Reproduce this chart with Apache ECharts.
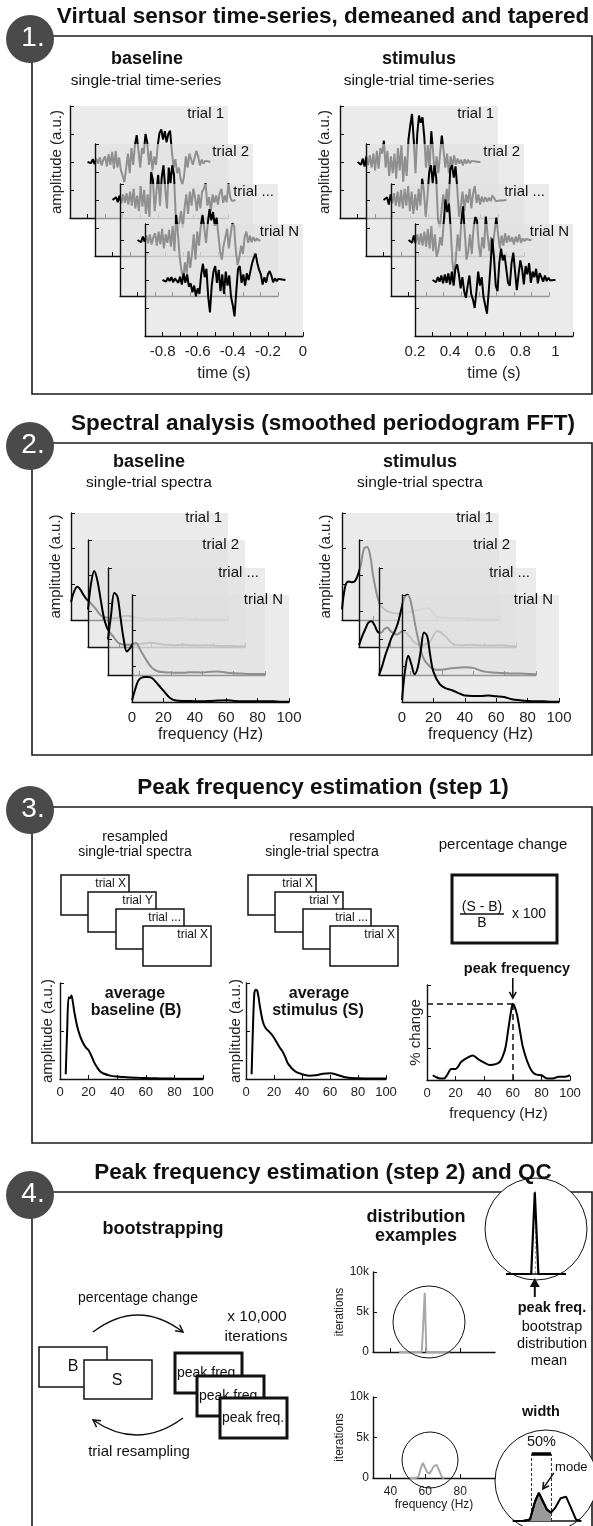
<!DOCTYPE html>
<html><head><meta charset="utf-8">
<script src="https://cdn.jsdelivr.net/npm/echarts@6/dist/echarts.min.js"></script>
<style>html,body{margin:0;padding:0;background:#fff}#c{width:593px;height:1526px}</style>
</head><body><div id="c"></div><script>
// ---------------- DATA ----------------
// Panel 1: single-trial virtual-sensor time-series (a.u., scaled to +-100), 10 ms samples
const baselineTimes = Array.from({length:71},(_,i)=>Math.round((-0.80+i*0.01)*100)/100);
const stimulusTimes = Array.from({length:71},(_,i)=>Math.round((0.30+i*0.01)*100)/100);
const baselineTrial1 = [0,3,-2,5,-4,6,-3,8,-6,4, 10,-8,14,-5,18,-12,20,-10,8,-15, -25,-36,-10,15,-20,25,-5,30,48,20, -10,25,15,50,35,-5,20,-15,10,-5, 30,52,58,40,55,35,50,56,20,-10, 5,-20,-10,-30,-40,-25,10,-10,15,5, -5,8,20,10,-6,4,-3,2,-1,1,0];
const baselineTrial2 = [0,-3,5,-4,8,-6,10,-5,12,-8, 15,-10,20,-15,8,-20,25,-12,18,-25, 10,-30,50,35,-20,15,45,-10,40,62, 20,-15,58,30,62,45,-30,-55,-40,-20, -50,-15,10,-25,15,-10,20,5,-20,10, -15,15,20,30,-10,5,-20,10,-5,8, -8,12,20,-5,8,-4,30,5,-2,1,0];
const baselineTrialDots = [0,3,-4,6,-3,8,-6,10,-8,5, 12,-10,15,-8,20,-15,10,-5,18,-12, 25,-20,45,10,-30,-55,-67,-40,-60,-20, -50,-25,10,-35,15,-10,25,45,20,-5, 30,55,35,50,25,40,10,-20,-35,-10, 5,20,-15,10,30,25,-20,-45,-30,-10, -25,5,15,-5,8,-4,5,-2,3,-1,0];
const baselineTrialN = [0,2,-3,4,-2,5,-4,3,6,-5, 6,-8,12,-5,10,-12,-6,-22,-10,-29, -15,-25,10,29,5,20,-30,-58,-10,15, 25,-5,18,-20,10,-25,15,-10,8,-30, -45,-65,-20,20,25,-5,10,-10,12,0, 15,30,40,47,30,18,10,-8,5,-5, 10,16,8,-4,3,-2,2,0,1,-1,0];
const stimulusTrial1 = [0,3,-5,6,-8,10,-6,12,-10,15, -15,20,-12,25,15,38,-10,20,-25,10, -20,15,-30,25,-15,30,-35,10,-25,40, 65,86,40,-20,50,83,70,80,45,-10, 30,-15,55,20,-25,10,-20,15,47,20, -10,15,-20,10,-8,12,-5,6,-3,4, -6,5,-3,4,-2,2,-1,1,-1,0,0];
const stimulusTrial2 = [0,-3,5,-8,10,-6,12,-10,15,-12, 18,-15,20,-10,25,-20,15,-25,10,-18, 20,-10,38,15,-30,5,50,62,30,62, 40,-35,-49,-20,10,-15,20,-10,55,62, 40,60,20,-30,-10,15,-20,10,-5,20, -15,12,25,-5,10,-8,6,-4,5,-3, 4,-2,8,3,-2,1,-1,2,-1,0,0];
const stimulusTrialDots = [0,3,-5,8,-6,10,-8,12,-10,15, -12,20,-15,25,-20,10,-30,-18,5,-10, 30,72,50,65,20,-40,-63,-30,10,-20, 30,60,15,-35,-20,10,-25,20,41,35, -10,-30,5,-15,42,10,-20,5,-10,15, 40,10,-15,8,-10,12,-5,8,-3,5, -8,6,-4,10,-5,3,-2,2,-1,0,0];
const stimulusTrialN = [0,2,-4,5,-3,8,-6,10,-5,12, -8,15,-10,20,28,10,-15,5,-20,-32, -10,8,-25,-35,-50,-20,15,-10,5,-30, -45,-60,-20,25,74,40,-10,-20,30,56, 35,45,20,-5,-10,30,49,15,-18,10, 35,20,-8,25,10,30,-5,15,5,20, -6,12,5,-3,8,-2,4,-1,2,0,0];
const trialLabels = ['trial 1','trial 2','trial ...','trial N'];

// Panel 2: single-trial spectra (a.u.)
const specFreq = [0,2,4,6,8,10,12,14,16,18,20,24,28,32,36,40,45,50,55,60,65,70,75,80,85,90,95,100];
const baselineSpec1 = [0.5,0.8,0.93,0.85,0.7,0.58,0.5,0.4,0.3,0.18,0.1,0.06,0.05,0.1,0.12,0.08,0.04,0.03,0.04,0.03,0.04,0.05,0.03,0.02,0.02,0.01,0.01,0.01];
const baselineSpec2 = [1.05,1.8,2.13,1.86,1.35,0.85,0.55,0.4,0.3,0.18,0.1,0.06,0.06,0.08,0.1,0.12,0.09,0.06,0.05,0.06,0.05,0.04,0.05,0.04,0.03,0.03,0.02,0.02];
const baselineSpecDots = [1.0,1.7,2.3,2.2,1.6,1.0,0.66,0.75,0.88,0.9,0.75,0.45,0.2,0.1,0.08,0.07,0.06,0.07,0.08,0.07,0.09,0.1,0.07,0.05,0.04,0.03,0.03,0.03];
const baselineSpecN = [0.05,0.35,0.6,0.68,0.7,0.7,0.69,0.62,0.52,0.42,0.32,0.12,0.04,0.03,0.03,0.02,0.02,0.03,0.04,0.05,0.03,0.02,0.02,0.02,0.02,0.02,0.01,0.01];
const stimulusSpec1 = [0.3,0.93,1.08,1.06,1.08,1.25,1.55,2.0,2.05,1.8,1.2,0.45,0.27,0.2,0.18,0.2,0.25,0.3,0.33,0.1,0.06,0.05,0.05,0.04,0.03,0.02,0.02,0.01];
const stimulusSpec2 = [0.05,0.3,0.5,0.68,0.72,0.6,0.42,0.4,0.5,0.55,0.45,0.35,0.45,0.3,0.1,0.05,0.15,0.45,0.3,0.08,0.05,0.06,0.05,0.04,0.04,0.05,0.03,0.02];
const stimulusSpecDots = [0.0,0.25,0.55,0.8,1.05,1.22,1.45,1.8,2.15,2.25,2.1,1.2,0.5,0.25,0.15,0.15,0.18,0.2,0.22,0.2,0.12,0.08,0.06,0.05,0.04,0.04,0.03,0.02];
const stimulusSpecN = [0.05,0.9,1.3,1.05,0.78,0.96,1.45,1.95,1.85,1.3,0.85,0.5,0.38,0.33,0.25,0.18,0.17,0.17,0.18,0.16,0.14,0.08,0.05,0.03,0.02,0.02,0.01,0.01];

// Panel 3: averaged spectra and percentage change
const avgFreq = [4,5,6,7,8,9,10,12,14,16,18,20,22,24,26,28,30,35,40,45,50,55,60,65,70,75,80,90,100];
const avgBaseline = [0.05,0.5,0.85,0.84,0.87,0.8,0.7,0.55,0.45,0.38,0.33,0.3,0.24,0.17,0.12,0.08,0.06,0.035,0.025,0.02,0.015,0.012,0.01,0.008,0.006,0.005,0.004,0.003,0.003];
const avgStimulus = [0.05,0.55,0.9,0.93,0.92,0.85,0.75,0.6,0.53,0.5,0.47,0.43,0.38,0.33,0.29,0.23,0.16,0.08,0.05,0.035,0.04,0.055,0.06,0.045,0.02,0.01,0.008,0.005,0.004];
const pctFreq = [4,6,9,12,14,17,20,24,28,32,36,40,44,48,51,53,55,57,59,60,61,63,65,67,70,73,76,80,84,88,92,96,100];
const pctChange = [0.06,0.04,0.02,0.02,0.06,0.14,0.14,0.23,0.28,0.31,0.26,0.22,0.19,0.2,0.23,0.3,0.42,0.66,0.89,0.96,0.94,0.82,0.62,0.42,0.24,0.12,0.07,0.06,0.02,0.02,0.04,0.04,0.06];
const resampledLabels = ['trial X','trial Y','trial ...','trial X'];

// Panel 4: bootstrap distributions (thousands of iterations)
const histFreqA = [45,50,55,58,58.8,59.7,60.6,62,65,70,74];
const histCountA = [0,0,0,0,0,7.4,0,0,0,0,0];
const histFreqB = [51,54,56,57.5,58.6,60,61,62.2,63.5,65,66.6,68,69.5,71];
const histCountB = [0,0,0.1,1.3,1.85,1.2,0.75,0.55,0.9,1.5,1.6,0.9,0.1,0];
const widthBounds = [56.5, 62.2];
const histXTicks = [40,60,80];
const histYTickLabels = {0:'0',5:'5k',10:'10k'};

// ---------------- BUILD ----------------
const FONT = '"Liberation Sans", Arial, Helvetica, sans-serif';
const INK = '#111';
const BG = 'rgba(224,224,224,0.64)';
const grids = [], xAxes = [], yAxes = [], series = [], G = [];

function text(t, x, y, size, o) {
  o = o || {};
  const al = o.align || 'center';
  G.push({ type:'text', z: o.z != null ? o.z : 60, silent:true,
    style:{ text:t, x:x, y:y, font:(o.bold?'bold ':'')+size+'px '+FONT, fill:o.color||INK,
      textAlign:al, align:al, textVerticalAlign:'middle', verticalAlign:'middle' } });
}
function axisCommon(z) {
  return { type:'value', z:z,
    axisLine:{ show:true, onZero:false, lineStyle:{ color:INK, width:1.4 } },
    axisTick:{ show:true, inside:true, length:4, lineStyle:{ color:INK, width:1 } },
    axisLabel:{ show:false }, splitLine:{ show:false } };
}
function addGrid(box, xa, ya, z) {
  const gi = grids.length;
  grids.push({ left:box.left, top:box.top, width:box.width, height:box.height,
    show:!!box.bg, backgroundColor:box.bg||'transparent', borderWidth:0, z:z,
    containLabel:false, outerBoundsMode:'none' });
  xAxes.push(Object.assign(axisCommon(z+1), { gridIndex:gi }, xa));
  yAxes.push(Object.assign(axisCommon(z+1), { gridIndex:gi }, ya));
  return gi;
}
function lineSeries(gi, xs, ys, o) {
  o = o || {};
  const s = { type:'line', xAxisIndex:gi, yAxisIndex:gi, z:o.z||12, data:xs.map((x,j)=>[x,ys[j]]),
    symbol:'none', smooth:o.smooth||false, clip:o.clip!=null?o.clip:false, silent:true, animation:false,
    lineStyle:{ color:o.color||'#000', width:o.width||2 } };
  if (o.area) s.areaStyle = { color:o.area, opacity:1 };
  if (o.markLine) s.markLine = o.markLine;
  series.push(s);
  return s;
}
const lblStyle = (size) => ({ fontSize:size, color:'#222', fontFamily:FONT });

function stack(c) {
  c.traces.forEach((tr, k) => {
    const z = 10 + 10*k;
    const top = c.bottoms[k] - c.h;
    const last = k === c.traces.length - 1;
    const gi = addGrid({ left:c.lefts[k], top:top, width:c.w, height:c.h, bg:BG }, {
      min:c.xMin, max:c.xMax, interval:c.xInt,
      axisLabel:Object.assign({ show:last, margin:8, formatter:c.xFmt }, lblStyle(15)),
      name:last?c.xName:'', nameLocation:'middle', nameGap:c.xNameGap, nameTextStyle:lblStyle(16)
    }, {
      min:c.yMin, max:c.yMax, interval:c.yInt,
      name:k===0?'amplitude (a.u.)':'', nameLocation:'middle', nameGap:c.yNameGap, nameTextStyle:lblStyle(15)
    }, z);
    lineSeries(gi, c.xs, tr, { z:z+2, width:c.lw, smooth:c.smooth });
    text(c.labels[k], c.lefts[k] + c.w - c.labelDx, top + c.labelDy, 15, { align:'right', z:z+3 });
  });
}

// ----- frames, badges, titles
const panels = [
  { line:36, bottom:394, n:'1.', title:'Virtual sensor time-series, demeaned and tapered' },
  { line:443, bottom:755, n:'2.', title:'Spectral analysis (smoothed periodogram FFT)' },
  { line:807, bottom:1143, n:'3.', title:'Peak frequency estimation (step 1)' },
  { line:1192, bottom:null, n:'4.', title:'Peak frequency estimation (step 2) and QC' }
];
panels.forEach(p => {
  const b = p.bottom == null ? 1530 : p.bottom;
  const pts = p.bottom == null ? [[30,p.line],[592,p.line],[592,b]] : [[30,p.line],[592,p.line],[592,b],[32,b],[32,p.line]];
  G.push({ type:'polyline', z:1, silent:true, shape:{ points:pts }, style:{ stroke:'#1a1a1a', lineWidth:1.6, fill:null } });
  if (p.bottom == null) G.push({ type:'line', z:1, silent:true, shape:{ x1:32, y1:p.line, x2:32, y2:b }, style:{ stroke:'#1a1a1a', lineWidth:1.6 } });
  G.push({ type:'circle', z:2, silent:true, shape:{ cx:30, cy:p.line+3, r:24 }, style:{ fill:'#4a4a4a', stroke:null } });
  text(p.n, 33, p.line+2, 28, { color:'#fff', z:3 });
  text(p.title, 323, p.line-19, 22.5, { bold:true });
});

// ----- Panel 1
const tFmt = v => { const r = Math.round(v*10); return r % 2 === 0 ? String(r/10) : ''; };
const p1Bottoms = [218,256,296,336];
stack({ lefts:[70,95,120,145], bottoms:p1Bottoms, w:158, h:112, xMin:-0.9, xMax:0, xInt:0.1, yMin:-100, yMax:100, yInt:50,
  xs:baselineTimes, traces:[baselineTrial1, baselineTrial2, baselineTrialDots, baselineTrialN], labels:trialLabels,
  xName:'time (s)', xNameGap:30, yNameGap:6, xFmt:tFmt, lw:2, labelDx:4, labelDy:8 });
stack({ lefts:[340,366,391,415], bottoms:p1Bottoms, w:158, h:112, xMin:0.2, xMax:1.1, xInt:0.1, yMin:-100, yMax:100, yInt:50,
  xs:stimulusTimes, traces:[stimulusTrial1, stimulusTrial2, stimulusTrialDots, stimulusTrialN], labels:trialLabels,
  xName:'time (s)', xNameGap:30, yNameGap:8, xFmt:tFmt, lw:2, labelDx:4, labelDy:8 });
text('baseline', 147, 59, 18, { bold:true });
text('single-trial time-series', 146, 81, 15.5);
text('stimulus', 419, 59, 18, { bold:true });
text('single-trial time-series', 419, 81, 15.5);

// ----- Panel 2
const p2Bottoms = [620,647,675,702];
stack({ lefts:[71,88,108,132], bottoms:p2Bottoms, w:157, h:107, xMin:0, xMax:100, xInt:20, yMin:0, yMax:3, yInt:1,
  xs:specFreq, traces:[baselineSpec1, baselineSpec2, baselineSpecDots, baselineSpecN], labels:trialLabels,
  xName:'frequency (Hz)', xNameGap:25, yNameGap:8, lw:2, smooth:0.35, labelDx:6, labelDy:5 });
stack({ lefts:[342,359,379,402], bottoms:p2Bottoms, w:157, h:107, xMin:0, xMax:100, xInt:20, yMin:0, yMax:3, yInt:1,
  xs:specFreq, traces:[stimulusSpec1, stimulusSpec2, stimulusSpecDots, stimulusSpecN], labels:trialLabels,
  xName:'frequency (Hz)', xNameGap:25, yNameGap:9, lw:2, smooth:0.35, labelDx:6, labelDy:5 });
text('baseline', 149, 462, 18, { bold:true });
text('single-trial spectra', 149, 483, 15.5);
text('stimulus', 420, 462, 18, { bold:true });
text('single-trial spectra', 420, 483, 15.5);

// ----- Panel 3
[0, 187].forEach(off => {
  text('resampled', 135+off, 837, 14);
  text('single-trial spectra', 135+off, 852, 14);
  for (let k = 0; k < 4; k++) {
    const x = 61 + Math.round(27.3*k) + off, y = 875 + 17*k;
    G.push({ type:'rect', z:20+2*k, silent:true, shape:{ x:x, y:y, width:68, height:40 }, style:{ fill:'#fff', stroke:INK, lineWidth:1.5 } });
    text(resampledLabels[k], x+65, y+9, 12, { align:'right', z:21+2*k });
  }
});
text('percentage change', 503, 845, 15);
G.push({ type:'rect', z:20, silent:true, shape:{ x:452, y:875, width:105, height:68 }, style:{ fill:'#fff', stroke:INK, lineWidth:3 } });
text('(S - B)', 482, 907, 14, { z:21 });
G.push({ type:'line', z:21, silent:true, shape:{ x1:460, y1:914, x2:504, y2:914 }, style:{ stroke:INK, lineWidth:1.3 } });
text('B', 482, 923, 14, { z:21 });
text('x 100', 529, 914, 14, { z:21 });

const freqAxis = (show) => ({ min:0, max:100, interval:20,
  axisLabel:Object.assign({ show:show, margin:7 }, lblStyle(13)) });
let gi = addGrid({ left:60, top:983, width:143, height:96 }, freqAxis(true),
  { min:0, max:1, interval:0.5, name:'amplitude (a.u.)', nameLocation:'middle', nameGap:5, nameTextStyle:lblStyle(15) }, 10);
lineSeries(gi, avgFreq, avgBaseline, { smooth:0.3, width:2 });
gi = addGrid({ left:246, top:983, width:140, height:96 }, freqAxis(true),
  { min:0, max:1, interval:0.5, name:'amplitude (a.u.)', nameLocation:'middle', nameGap:3, nameTextStyle:lblStyle(15) }, 10);
lineSeries(gi, avgFreq, avgStimulus, { smooth:0.3, width:2 });
text('average', 135, 994, 16, { bold:true });
text('baseline (B)', 136, 1011, 16, { bold:true });
text('average', 319, 994, 16, { bold:true });
text('stimulus (S)', 318, 1011, 16, { bold:true });

const pk = pctChange.indexOf(Math.max.apply(null, pctChange));
const peakF = pctFreq[pk], peakV = pctChange[pk];
const pctBox = { left:427, top:985, width:143, height:95 };
gi = addGrid(pctBox, Object.assign(freqAxis(true), { name:'frequency (Hz)', nameLocation:'middle', nameGap:26, nameTextStyle:lblStyle(15) }),
  { min:0, max:1.2, interval:0.4, name:'% change', nameLocation:'middle', nameGap:4, nameTextStyle:lblStyle(15) }, 10);
lineSeries(gi, pctFreq, pctChange, { smooth:0.3, width:2, markLine:{ silent:true, symbol:['none','none'], label:{ show:false }, animation:false,
  lineStyle:{ color:INK, type:[6,4], width:1.5 },
  data:[ [{ coord:[0,peakV] },{ coord:[peakF,peakV] }], [{ coord:[peakF,peakV] },{ coord:[peakF,0] }] ] } });
const pkX = pctBox.left + peakF/100*pctBox.width;
text('peak frequency', 517, 969, 14.5, { bold:true });

function arrowHead(tx, ty, dx, dy, len, w) {
  const a = Math.atan2(dy, dx), s = 0.5;
  G.push({ type:'polyline', z:40, silent:true, shape:{ points:[
    [tx - len*Math.cos(a-s), ty - len*Math.sin(a-s)], [tx,ty], [tx - len*Math.cos(a+s), ty - len*Math.sin(a+s)] ] },
    style:{ stroke:INK, lineWidth:w||1.5, fill:null } });
}
G.push({ type:'line', z:40, silent:true, shape:{ x1:pkX, y1:978, x2:pkX, y2:998 }, style:{ stroke:INK, lineWidth:1.6 } });
arrowHead(pkX, 998, 0, 1, 7, 1.6);

// ----- Panel 4 (left)
text('bootstrapping', 163, 1229, 18, { bold:true });
text('percentage change', 138, 1298, 14);
text('x 10,000', 257, 1317, 15.5);
text('iterations', 256, 1337, 15.5);
G.push({ type:'bezierCurve', z:40, silent:true, shape:{ x1:93, y1:1332, x2:183, y2:1332, cpx1:138, cpy1:1298 }, style:{ stroke:INK, lineWidth:1.5, fill:null } });
arrowHead(183, 1332, 45, 34, 8);
G.push({ type:'bezierCurve', z:40, silent:true, shape:{ x1:183, y1:1418, x2:93, y2:1420, cpx1:138, cpy1:1451 }, style:{ stroke:INK, lineWidth:1.5, fill:null } });
arrowHead(93, 1420, -45, -31, 8);
text('trial resampling', 139, 1452, 15);
G.push({ type:'rect', z:20, silent:true, shape:{ x:39, y:1347, width:68, height:40 }, style:{ fill:'#fff', stroke:INK, lineWidth:1.5 } });
text('B', 73, 1367, 16, { z:21 });
G.push({ type:'rect', z:22, silent:true, shape:{ x:84, y:1360, width:68, height:39 }, style:{ fill:'#fff', stroke:INK, lineWidth:1.5 } });
text('S', 117, 1381, 16, { z:23 });
[[175,1353],[197,1376],[220,1398]].forEach((p,k) => {
  G.push({ type:'rect', z:20+2*k, silent:true, shape:{ x:p[0], y:p[1], width:67, height:40 }, style:{ fill:'#fff', stroke:INK, lineWidth:3 } });
  text('peak freq.', p[0]+2, p[1]+20, 14, { align:'left', z:21+2*k });
});

// ----- Panel 4 (right)
text('distribution', 416, 1217, 18, { bold:true });
text('examples', 416, 1236, 18, { bold:true });
const histX = (show) => ({ min:30, max:100, interval:10,
  axisTick:{ show:true, inside:true, length:4, lineStyle:{ color:INK }, customValues:histXTicks },
  axisLabel:Object.assign({ show:show, margin:8, customValues:histXTicks, formatter:v => histXTicks.indexOf(v) >= 0 ? String(v) : '' }, lblStyle(12)) });
const histY = () => ({ min:0, max:10, interval:5,
  axisLabel:Object.assign({ show:true, margin:4, formatter:v => histYTickLabels[v] || '' }, lblStyle(12)),
  name:'iterations', nameLocation:'middle', nameGap:24, nameTextStyle:lblStyle(12) });
gi = addGrid({ left:373, top:1272, width:122, height:80 }, histX(false), histY(), 10);
lineSeries(gi, histFreqA, histCountA, { color:'#a8a8a8', width:2 });
gi = addGrid({ left:373, top:1397, width:122, height:81 },
  Object.assign(histX(true), { name:'frequency (Hz)', nameLocation:'middle', nameGap:21, nameTextStyle:lblStyle(12) }), histY(), 10);
lineSeries(gi, histFreqB, histCountB, { color:'#a8a8a8', width:2 });
G.push({ type:'circle', z:30, silent:true, shape:{ cx:429, cy:1322, r:36 }, style:{ fill:null, stroke:INK, lineWidth:1 } });
G.push({ type:'circle', z:30, silent:true, shape:{ cx:430, cy:1460, r:28 }, style:{ fill:null, stroke:INK, lineWidth:1 } });

// magnified A (bootstrap mean)
G.push({ type:'circle', z:5, silent:true, shape:{ cx:536, cy:1229, r:51 }, style:{ fill:'#fff', stroke:INK, lineWidth:1 } });
let sw = 0, swx = 0;
histFreqA.forEach((f,i) => { sw += histCountA[i]; swx += f*histCountA[i]; });
const meanA = swx / sw;
const magA = { left:508, top:1190, width:56, height:84, xMin:53, xMax:67 };
gi = addGrid(magA, { min:magA.xMin, max:magA.xMax, axisTick:{ show:false }, axisLine:{ show:true, onZero:false, lineStyle:{ color:INK, width:1.5 } } },
  { min:0, max:7.6, show:false }, 6);
lineSeries(gi, histFreqA, histCountA, { z:8, width:2.2, clip:true, markLine:{ silent:true, symbol:['none','none'], label:{ show:false }, animation:false,
  lineStyle:{ color:'#aaa', type:[3,2], width:1 }, data:[ [{ coord:[meanA,0] },{ coord:[meanA,7.6] }] ] } });
const meanX = magA.left + (meanA - magA.xMin)/(magA.xMax - magA.xMin)*magA.width;
G.push({ type:'polygon', z:40, silent:true, shape:{ points:[[meanX,1278],[meanX-5,1287],[meanX+5,1287]] }, style:{ fill:INK } });
G.push({ type:'line', z:40, silent:true, shape:{ x1:meanX, y1:1286, x2:meanX, y2:1297 }, style:{ stroke:INK, lineWidth:2 } });
text('peak freq.', 552, 1308, 14.5, { bold:true });
text('bootstrap', 552, 1327, 14.5);
text('distribution', 552, 1344, 14.5);
text('mean', 549, 1361, 14.5);

// magnified B (width of distribution)
text('width', 541, 1412, 14.5, { bold:true });
G.push({ type:'circle', z:5, silent:true, shape:{ cx:546, cy:1481, r:51 }, style:{ fill:'#fff', stroke:INK, lineWidth:1 } });
const magB = { left:513, top:1445, width:68, height:76, xMin:51, xMax:71, yMax:5 };
const barLevel = 4.4;
gi = addGrid(magB, { min:magB.xMin, max:magB.xMax, axisTick:{ show:false }, axisLine:{ show:true, onZero:false, lineStyle:{ color:INK, width:1.5 } } },
  { min:0, max:magB.yMax, show:false }, 6);
const shadeF = [], shadeC = [];
histFreqB.forEach((f,i) => { if (f <= widthBounds[1]) { shadeF.push(f); shadeC.push(histCountB[i]); } });
lineSeries(gi, shadeF, shadeC, { z:8, width:2, clip:true, area:'#9a9a9a' });
const dashStyle = { type:[3,2], width:1, color:'#333' };
lineSeries(gi, histFreqB, histCountB, { z:9, width:2, clip:true, markLine:{ silent:true, symbol:['none','none'], label:{ show:false }, animation:false,
  data:[
    [{ coord:[widthBounds[0],0], lineStyle:dashStyle },{ coord:[widthBounds[0],barLevel] }],
    [{ coord:[widthBounds[1],0], lineStyle:dashStyle },{ coord:[widthBounds[1],barLevel] }],
    [{ coord:[widthBounds[0],barLevel], lineStyle:{ type:'solid', width:3.5, color:'#000' } },{ coord:[widthBounds[1],barLevel] }]
  ] } });
const bx = f => magB.left + (f - magB.xMin)/(magB.xMax - magB.xMin)*magB.width;
const by = v => magB.top + magB.height - v/magB.yMax*magB.height;
text('50%', (bx(widthBounds[0]) + bx(widthBounds[1]))/2, by(barLevel) - 12, 14.5);
const mi = histCountB.indexOf(Math.max.apply(null, histCountB));
const tipX = bx(histFreqB[mi]) + 4, tipY = by(histCountB[mi]) - 4;
G.push({ type:'line', z:40, silent:true, shape:{ x1:tipX+11, y1:tipY-16, x2:tipX, y2:tipY }, style:{ stroke:INK, lineWidth:1.5 } });
arrowHead(tipX, tipY, -11, 16, 7);
text('mode', bx(widthBounds[1]) + 4, 1467, 13, { align:'left' });

const chart = echarts.init(document.getElementById('c'), null, { renderer:'canvas' });
chart.setOption({
  animation:false,
  backgroundColor:'#fff',
  textStyle:{ fontFamily:FONT },
  grid:grids, xAxis:xAxes, yAxis:yAxes, series:series,
  graphic:{ elements:G }
});
</script></body></html>
